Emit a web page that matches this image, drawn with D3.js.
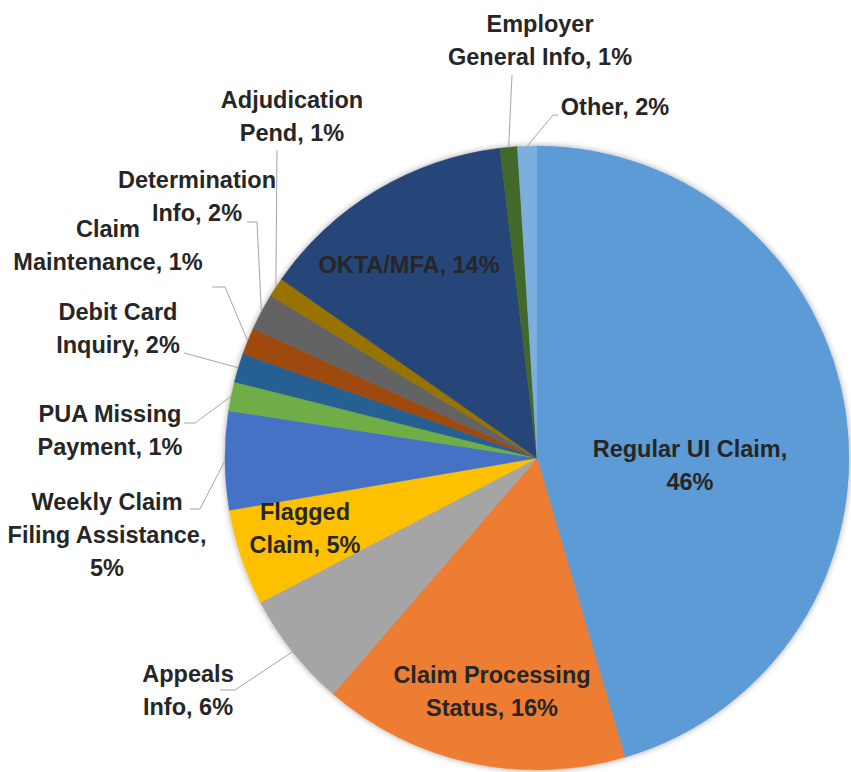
<!DOCTYPE html>
<html>
<head>
<meta charset="utf-8">
<script src="https://d3js.org/d3.v7.min.js"></script>
<title>Call reasons pie</title>
<style>
  body { margin: 0; background: #fff; }
  text { font-family: "Liberation Sans", Arial, sans-serif; font-weight: bold; }
</style>
</head>
<body>
<div id="chart"></div>
<script>
(function(){

// data, clockwise from 12 o'clock
var categories = ["Regular UI Claim", "Claim Processing Status", "Appeals Info", "Flagged Claim",
  "Weekly Claim Filing Assistance", "PUA Missing Payment", "Debit Card Inquiry", "Claim Maintenance",
  "Determination Info", "Adjudication Pend", "OKTA/MFA", "Employer General Info", "Other"];
var shares = [45.5, 15.9, 6.0, 5.0, 5.1, 1.5, 1.5, 1.4, 1.9, 1.0, 13.4, 0.9, 1.0];
var pctLabels = ["46%", "16%", "6%", "5%", "5%", "1%", "2%", "1%", "2%", "1%", "14%", "1%", "2%"];
var labelLines = [
  ["Regular UI Claim,", "46%"],
  ["Claim Processing", "Status, 16%"],
  ["Appeals", "Info, 6%"],
  ["Flagged", "Claim, 5%"],
  ["Weekly Claim", "Filing Assistance,", "5%"],
  ["PUA Missing", "Payment, 1%"],
  ["Debit Card", "Inquiry, 2%"],
  ["Claim", "Maintenance, 1%"],
  ["Determination", "Info, 2%"],
  ["Adjudication", "Pend, 1%"],
  ["OKTA/MFA, 14%"],
  ["Employer", "General Info, 1%"],
  ["Other, 2%"]
];
var colors = ["#5B9BD5", "#ED7D31", "#A5A5A5", "#FFC000", "#4472C4", "#70AD47", "#255E91",
  "#9E480E", "#636363", "#997300", "#264478", "#43682B", "#7CAFDD"];

// label layout: x = centre of text, y = first baseline, leader = points toward the rim
var layout = {
  "Regular UI Claim":              {x: 690, y: 457},
  "Claim Processing Status":       {x: 492, y: 683},
  "Appeals Info":                  {x: 188, y: 682, leader: [[220, 690], [235, 690]]},
  "Flagged Claim":                 {x: 305, y: 520},
  "Weekly Claim Filing Assistance":{x: 107, y: 510, leader: [[190, 509], [200, 509]]},
  "PUA Missing Payment":           {x: 110, y: 422, leader: [[184, 423], [195, 423]]},
  "Debit Card Inquiry":            {x: 118, y: 320, leader: [[184, 353]]},
  "Claim Maintenance":             {x: 108, y: 237, leader: [[212, 287], [225, 287]]},
  "Determination Info":            {x: 197, y: 188, leader: [[247, 222], [257, 222]]},
  "Adjudication Pend":             {x: 292, y: 108, leader: [[277, 150]]},
  "OKTA/MFA":                      {x: 409, y: 273},
  "Employer General Info":         {x: 540, y: 32,  leader: [[512, 75]]},
  "Other":                         {x: 615, y: 115, leader: [[558, 115], [553, 115]]}
};

var w = 851, h = 772;
var cx = 537, cy = 458, r = 312;
var lineH = 33;

var data = categories.map(function(c, i) {
  return {name: c, value: shares[i], color: colors[i], lines: labelLines[i], pct: pctLabels[i]};
});

var svg = d3.select("#chart").append("svg")
  .attr("width", w).attr("height", h);

var defs = svg.append("defs");
var f = defs.append("filter").attr("id", "shadow")
  .attr("x", "-10%").attr("y", "-10%").attr("width", "120%").attr("height", "120%");
f.append("feDropShadow").attr("dx", 0).attr("dy", 0).attr("stdDeviation", 3)
  .attr("flood-color", "#000").attr("flood-opacity", 0.35);

var pie = d3.pie().sort(null).value(function(d) { return d.value; });
var arcs = pie(data);

var arc = d3.arc().innerRadius(0).outerRadius(r);
var rim = d3.arc().innerRadius(r).outerRadius(r);

var g = svg.append("g").attr("transform", "translate(" + cx + "," + cy + ")");

g.append("g").attr("filter", "url(#shadow)")
  .selectAll("path")
  .data(arcs)
  .enter().append("path")
    .attr("d", arc)
    .attr("fill", function(d) { return d.data.color; })
    .attr("stroke", function(d) { return d.data.color; })
    .attr("stroke-width", 0.5);

// leader lines
var line = d3.line();
svg.append("g").selectAll("path")
  .data(arcs.filter(function(d) { return layout[d.data.name].leader; }))
  .enter().append("path")
    .attr("d", function(d) {
      var p = rim.centroid(d);
      var pts = layout[d.data.name].leader.concat([[p[0] + cx, p[1] + cy]]);
      return line(pts);
    })
    .attr("fill", "none")
    .attr("stroke", "#a6a6a6")
    .attr("stroke-width", 1);

// labels
var labels = svg.append("g").selectAll("text")
  .data(arcs)
  .enter().append("text")
    .attr("text-anchor", "middle")
    .attr("font-size", "23.5px")
    .attr("fill", "#262626");

labels.each(function(d) {
  var L = layout[d.data.name];
  d3.select(this).selectAll("tspan")
    .data(d.data.lines)
    .enter().append("tspan")
      .attr("x", L.x)
      .attr("y", function(t, i) { return L.y + i * lineH; })
      .text(function(t) { return t; });
});

})();
</script>
</body>
</html>
